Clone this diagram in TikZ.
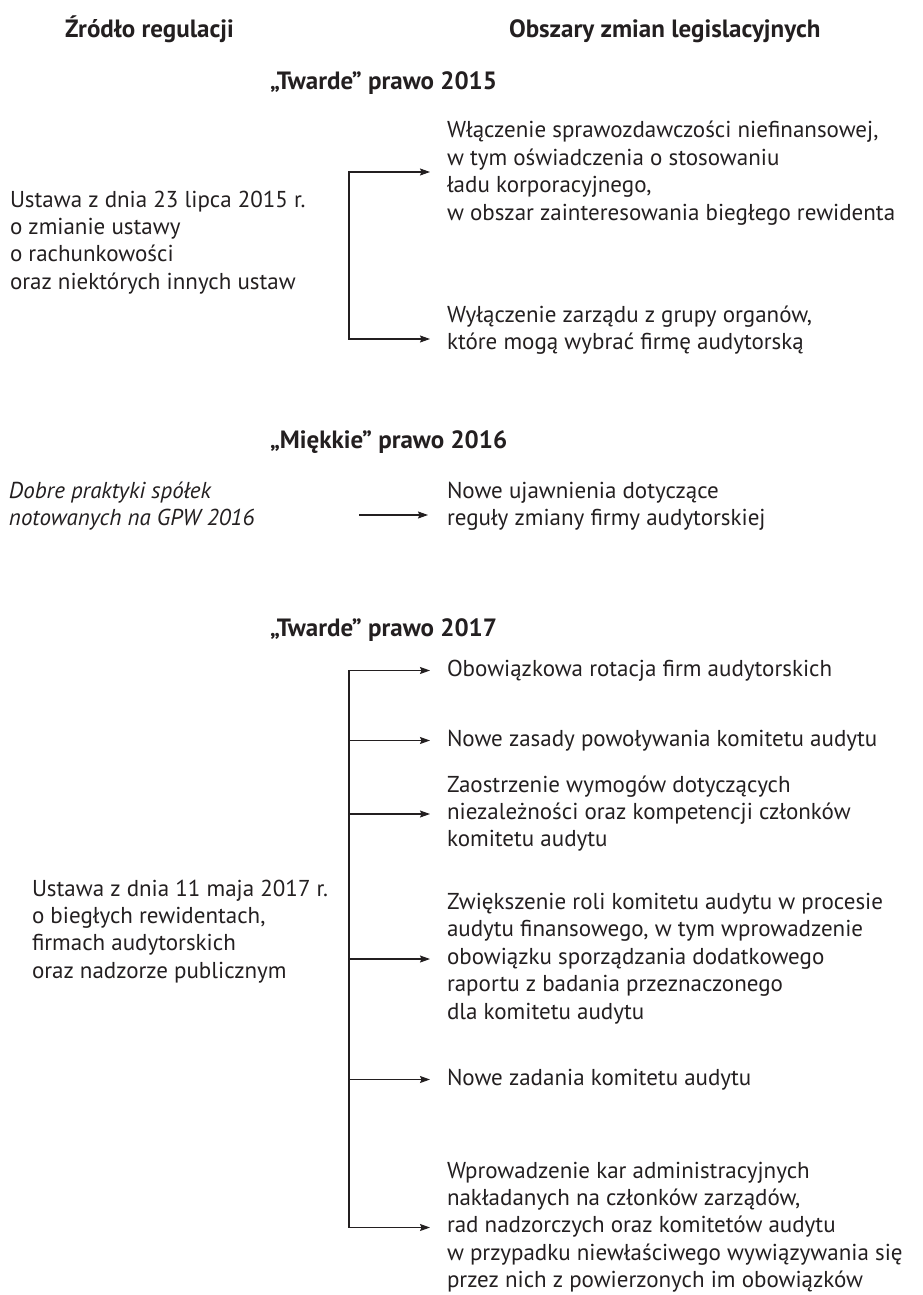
\documentclass[tikz,border=0pt]{standalone}
\usepackage{fontspec}
\setmainfont{PT Sans}
\usetikzlibrary{arrows.meta}
\definecolor{ink}{HTML}{231F20}
% a left-aligned block of lines whose baseline is that of its first line
\newcommand{\txtblock}[1]{\begin{tabular}[t]{@{}l@{}}#1\end{tabular}}

\begin{document}
\begin{tikzpicture}[x=1pt,y=-1pt,
  every node/.style={inner sep=0pt, outer sep=0pt, anchor=base west, text=ink},
  body/.style={font=\fontsize{23}{27.4}\selectfont},
  heading/.style={font=\fontsize{25}{30}\selectfont\bfseries},
  slanted/.style={font=\fontsize{23}{27.4}\selectfont\itshape},
  link/.style={draw=ink, line width=1.1pt, line cap=rect},
  feed/.style={link, -{Stealth[length=10pt,width=7pt,inset=1.5pt]}}]
\useasboundingbox (0,0) rectangle (922,1295);

% column headings
\node[heading] (srcHead)  at (65,38)  {Źródło regulacji};
\node[heading] (areaHead) at (509,38) {Obszary zmian legislacyjnych};

% ---- hard law 2015
\node[heading] (hard15) at (270,90) {„Twarde” prawo 2015};
\node[body] (act15) at (10,207) {\txtblock{Ustawa z dnia 23 lipca 2015 r.\\
  o zmianie ustawy\\ o rachunkowości\\ oraz niektórych innych ustaw}};
\node[body] (r15a) at (447,138) {\txtblock{Włączenie sprawozdawczości niefinansowej,\\
  w tym oświadczenia o stosowaniu\\ ładu korporacyjnego,\\
  w obszar zainteresowania biegłego rewidenta}};
\node[body] (r15b) at (447,322) {\txtblock{Wyłączenie zarządu z grupy organów,\\
  które mogą wybrać firmę audytorską}};

\coordinate (k15a) at (349,172);
\coordinate (k15b) at (349,339);
\coordinate (t15a) at (430,172);
\coordinate (t15b) at (430,339);
\draw[feed] (k15b) |- (t15a);
\draw[feed] (k15b) -- (t15b);

% ---- soft law 2016
\node[heading] (soft16) at (270,448) {„Miękkie” prawo 2016};
\node[slanted] (gpw16) at (9,498) {\txtblock{Dobre praktyki spółek\\ notowanych na GPW 2016}};
\node[body] (r16) at (447,498) {\txtblock{Nowe ujawnienia dotyczące\\
  reguły zmiany firmy audytorskiej}};
\coordinate (s16) at (360,515);
\coordinate (t16) at (428,515);
\draw[feed] (s16) -- (t16);

% ---- hard law 2017
\node[heading] (hard17) at (270,636) {„Twarde” prawo 2017};
\node[body] (act17) at (32,896) {\txtblock{Ustawa z dnia 11 maja 2017 r.\\
  o biegłych rewidentach,\\ firmach audytorskich\\ oraz nadzorze publicznym}};

\node[body] (r17a) at (447,676) {Obowiązkowa rotacja firm audytorskich};
\node[body] (r17b) at (447,746) {Nowe zasady powoływania komitetu audytu};
\node[body] (r17c) at (447,792) {\txtblock{Zaostrzenie wymogów dotyczących\\
  niezależności oraz kompetencji członków\\ komitetu audytu}};
\node[body] (r17d) at (447,909.5) {\txtblock{Zwiększenie roli komitetu audytu w procesie\\
  audytu finansowego, w tym wprowadzenie\\
  obowiązku sporządzania dodatkowego\\
  raportu z badania przeznaczonego\\ dla komitetu audytu}};
\node[body] (r17e) at (447,1085) {Nowe zadania komitetu audytu};
\node[body] (r17f) at (447,1178) {\txtblock{Wprowadzenie kar administracyjnych\\
  nakładanych na członków zarządów,\\
  rad nadzorczych oraz komitetów audytu\\
  w przypadku niewłaściwego wywiązywania się\\
  przez nich z powierzonych im obowiązków}};

\coordinate (k17a) at (349,670.5);
\coordinate (k17b) at (349,740.5);
\coordinate (k17c) at (349,814);
\coordinate (k17d) at (349,959);
\coordinate (k17e) at (349,1079.5);
\coordinate (k17f) at (349,1227.5);
\coordinate (t17a) at (430,670.5);
\coordinate (t17b) at (430,740.5);
\coordinate (t17c) at (430,814);
\coordinate (t17d) at (430,959);
\coordinate (t17e) at (430,1079.5);
\coordinate (t17f) at (430,1227.5);
\draw[feed] (k17f) |- (t17a);
\draw[feed] (k17b) -- (t17b);
\draw[feed] (k17c) -- (t17c);
\draw[feed] (k17d) -- (t17d);
\draw[feed] (k17e) -- (t17e);
\draw[feed] (k17f) -- (t17f);
\end{tikzpicture}
\end{document}
